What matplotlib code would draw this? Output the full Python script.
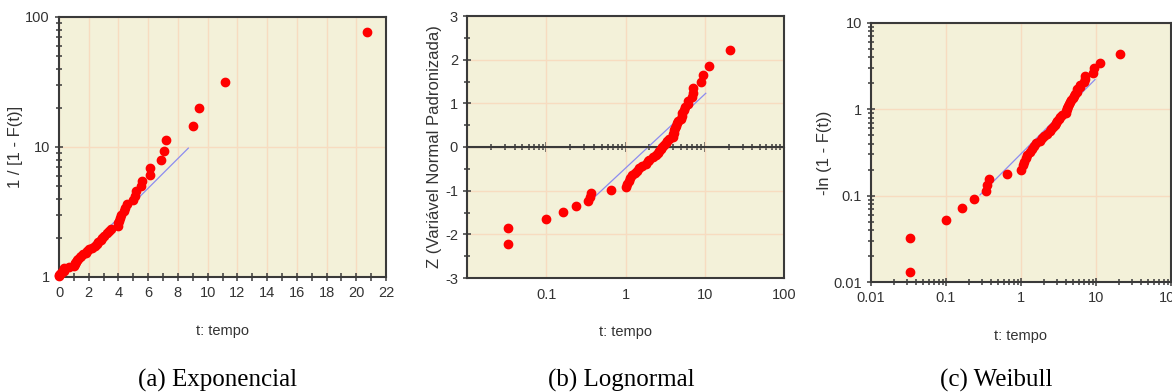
import matplotlib.pyplot as plt
from matplotlib.ticker import MultipleLocator, LogLocator, NullFormatter

plt.rcParams["axes.unicode_minus"] = False

# ordered failure times (same sample in all three panels)
t = [0.033, 0.033, 0.10, 0.165, 0.235, 0.34, 0.355, 0.37, 0.65, 1.00,
     1.05, 1.10, 1.15, 1.20, 1.30, 1.40, 1.50, 1.60, 1.80, 1.90,
     2.00, 2.20, 2.45, 2.55, 2.65, 2.80, 2.90, 3.05, 3.20, 3.35,
     3.50, 3.95, 4.00, 4.05, 4.10, 4.20, 4.35, 4.45, 4.60, 5.00,
     5.10, 5.20, 5.55, 5.60, 6.10, 6.15, 6.85, 7.05, 7.20, 9.00,
     9.40, 11.20, 20.70]

# (a) 1 / [1 - F(t)]
y_exp = [1.013, 1.033, 1.053, 1.074, 1.097, 1.12, 1.144, 1.169, 1.195, 1.222,
         1.251, 1.281, 1.312, 1.345, 1.38, 1.416, 1.455, 1.496, 1.539, 1.585,
         1.633, 1.685, 1.739, 1.798, 1.861, 1.928, 2.0, 2.078, 2.162, 2.253,
         2.353, 2.461, 2.58, 2.711, 2.856, 3.017, 3.198, 3.401, 3.633, 3.898,
         4.205, 4.564, 4.991, 5.505, 6.138, 6.935, 7.97, 9.368, 11.36, 14.43,
         19.78, 31.41, 76.26]

# (b) Z
z_norm = [-2.22, -1.86, -1.64, -1.48, -1.35, -1.24, -1.15, -1.06, -0.98, -0.91,
          -0.84, -0.78, -0.71, -0.65, -0.60, -0.54, -0.49, -0.44, -0.39, -0.33,
          -0.29, -0.24, -0.19, -0.14, -0.09, -0.05, 0.0, 0.05, 0.09, 0.14,
          0.19, 0.24, 0.29, 0.33, 0.39, 0.44, 0.49, 0.54, 0.60, 0.65,
          0.71, 0.78, 0.84, 0.91, 0.98, 1.06, 1.15, 1.24, 1.35, 1.48,
          1.64, 1.86, 2.22]

# (c) -ln(1 - F(t))
y_wb = [0.0132, 0.0324, 0.0519, 0.0718, 0.0922, 0.113, 0.134, 0.156, 0.178, 0.2,
        0.224, 0.247, 0.272, 0.297, 0.322, 0.348, 0.375, 0.403, 0.431, 0.46,
        0.49, 0.522, 0.554, 0.587, 0.621, 0.656, 0.693, 0.731, 0.771, 0.812,
        0.855, 0.9, 0.948, 0.997, 1.049, 1.104, 1.162, 1.224, 1.29, 1.36,
        1.436, 1.518, 1.608, 1.706, 1.814, 1.937, 2.076, 2.237, 2.43, 2.67,
        2.985, 3.447, 4.334]

# fitted lines (end points)
fit_a_t, fit_a_y = [0.2, 8.7], [1.05, 9.8]
fit_b_t, fit_b_z = [0.353, 10.3], [-1.25, 1.23]
fit_c_t, fit_c_y = [0.284, 9.7], [0.102, 2.21]

captions = ["(a) Exponencial", "(b) Lognormal", "(c) Weibull"]

BG = "#F3F1D9"
GRID = "#F7DCC0"
RED = "#FF0000"
BLUE = "#8C8CF0"
SPINE = "#3A3A3A"
TXT = "#333333"
SANS = "Liberation Sans"

W, H = 1172, 392


def box(l, r, top, bot):
    return [l / W, 1 - bot / H, (r - l) / W, (bot - top) / H]


def style(ax):
    ax.set_facecolor(BG)
    ax.set_axisbelow(True)
    for s in ax.spines.values():
        s.set_color(SPINE)
        s.set_linewidth(1.5)
    ax.tick_params(which="both", direction="inout", color=SPINE,
                   labelcolor=TXT, labelsize=10.5, width=1.1)
    ax.tick_params(which="major", length=6)
    ax.tick_params(which="minor", length=4)
    ax.grid(True, which="major", color=GRID, lw=1)
    for lab in ax.get_xticklabels() + ax.get_yticklabels():
        lab.set_fontfamily(SANS)


def points(ax, x, y):
    ax.plot(x, y, "o", color=RED, ms=6, mec=RED, clip_on=False, zorder=3)


def labels(ax, ylab, ylx, xly=-0.18):
    ax.set_ylabel(ylab, fontsize=12, color=TXT, family=SANS)
    ax.yaxis.set_label_coords(ylx, 0.5)
    ax.set_xlabel("t: tempo", fontsize=10.5, color=TXT, family=SANS, va="top")
    ax.xaxis.set_label_coords(0.5, xly)


fig = plt.figure(figsize=(W / 100, H / 100), dpi=100)

# (a) exponencial
ax = fig.add_axes(box(59, 386, 17, 277))
ax.set_yscale("log")
points(ax, t, y_exp)
ax.plot(fit_a_t, fit_a_y, color=BLUE, lw=0.9, zorder=2)
ax.set_xlim(0, 22)
ax.set_ylim(1, 100)
ax.xaxis.set_major_locator(MultipleLocator(2))
ax.xaxis.set_minor_locator(MultipleLocator(1))
ax.set_yticks([1, 10, 100], ["1", "10", "100"])
ax.yaxis.set_minor_locator(LogLocator(subs=range(2, 10)))
ax.yaxis.set_minor_formatter(NullFormatter())
style(ax)
ax.tick_params(axis="x", which="minor", length=6)
labels(ax, "1 / [1 - F(t)]", -0.11)

# (b) lognormal
ax = fig.add_axes(box(467, 784, 16, 278))
ax.set_xscale("log")
points(ax, t, z_norm)
ax.plot(fit_b_t, fit_b_z, color=BLUE, lw=0.9, zorder=2)
ax.axhline(0, color=SPINE, lw=1.5, zorder=2.5)
ax.set_xlim(0.01, 100)
ax.set_ylim(-3, 3)
ax.set_xticks([0.01, 0.1, 1, 10, 100], ["", "0.1", "1", "10", "100"])
ax.xaxis.set_minor_formatter(NullFormatter())
ax.yaxis.set_minor_locator(MultipleLocator(0.5))
style(ax)
ax.tick_params(axis="x", which="both", length=0, pad=7)
sec = ax.secondary_xaxis(0.5)
sec.spines["bottom"].set_visible(False)
sec.xaxis.set_major_formatter(NullFormatter())
sec.xaxis.set_minor_formatter(NullFormatter())
sec.tick_params(which="both", direction="inout", color=SPINE, width=1.1)
sec.tick_params(which="major", length=7)
sec.tick_params(which="minor", length=5)
labels(ax, "Z (Variável Normal Padronizada)", -0.08)

# (c) weibull
ax = fig.add_axes(box(871, 1171, 23, 282))
ax.set_xscale("log")
ax.set_yscale("log")
points(ax, t, y_wb)
ax.plot(fit_c_t, fit_c_y, color=BLUE, lw=0.9, zorder=2)
ax.set_xlim(0.01, 100)
ax.set_ylim(0.01, 10)
ax.set_xticks([0.01, 0.1, 1, 10, 100], ["0.01", "0.1", "1", "10", "100"])
ax.set_yticks([0.01, 0.1, 1, 10], ["0.01", "0.1", "1", "10"])
ax.xaxis.set_minor_formatter(NullFormatter())
ax.yaxis.set_minor_formatter(NullFormatter())
style(ax)
labels(ax, "-ln (1 - F(t))", -0.13)

for cx, cap in zip([218, 621, 996], captions):
    fig.text(cx / W, 1 - 380 / H, cap, ha="center", va="center",
             fontsize=18, family="Liberation Serif", color="black")

fig.savefig("out.png", dpi=100)
